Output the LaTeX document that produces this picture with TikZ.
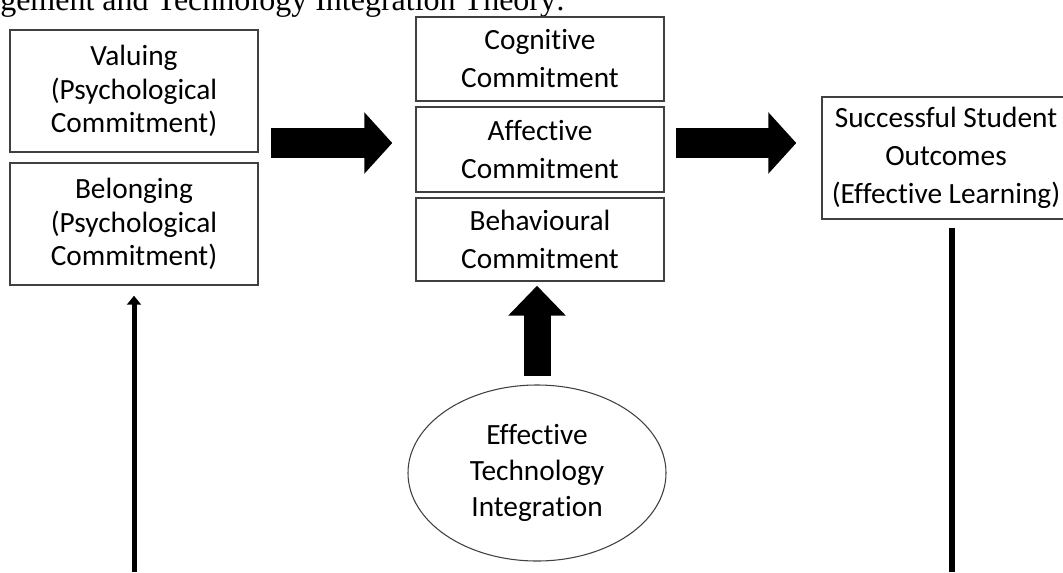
\documentclass[tikz,border=0pt]{standalone}
\usepackage{fontspec}
\setmainfont{Carlito}[Ligatures=NoCommon]
\newfontfamily\titlefont{Liberation Serif}
\usetikzlibrary{shapes.geometric,arrows.meta,calc}

\begin{document}
\begin{tikzpicture}[x=0.75pt,y=-0.75pt,
    box/.style={draw=black!75,line width=1.1pt,align=center,inner sep=0pt,
      minimum width=186pt,font=\fontsize{22}{25}\selectfont},
    loose/.style={font=\fontsize{22}{28.5}\selectfont},
    blockarrow/.style={line width=22.5pt,-{Triangle[length=21pt,width=45pt]}},
    uparrow/.style={line width=20.25pt,-{Triangle[length=22.5pt,width=42pt]}},
    thinarrow/.style={line width=3.75pt,-{Triangle[length=6.75pt,width=10.5pt]}}]
    \useasboundingbox (0,0) rectangle (1063,572);
    \clip (0,0) rectangle (1063,572);
    \node[anchor=base west,inner sep=0pt,font=\titlefont\fontsize{24}{29}\selectfont]
      (ttl) at (0,10) {gement and Technology Integration Theory:};
    \node[box,minimum height=91.5pt](val) at (134,91) {Valuing\\(Psychological\\Commitment)};
    \node[box,minimum height=91.5pt](bel) at (134,224) {Belonging\\(Psychological\\Commitment)};
    \node[box,loose,minimum height=63pt](cog) at (540,59) {Cognitive\\Commitment};
    \node[box,loose,minimum height=63.75pt](aff) at (540,149.5) {Affective\\Commitment};
    \node[box,loose,minimum height=62.25pt](beh) at (540,239.5) {Behavioural\\Commitment};
    \node[box,loose,minimum height=91.5pt](out) at (946,158) {Successful Student\\Outcomes\\(Effective Learning)};
    \node[ellipse,draw=black!75,line width=0.8pt,align=center,inner sep=0pt,
      minimum width=193.5pt,minimum height=132pt,font=\fontsize{22}{27}\selectfont]
      (eti) at (537,473) {Effective\\Technology\\Integration};
    \coordinate (lb) at (134,572);
    \coordinate (rb) at (952,572);
    \draw[blockarrow] ($(val.east |- aff.west)+(12,-6.5)$) -- ($(aff.west)+(-23,-6.5)$);
    \draw[blockarrow] ($(aff.east)+(11,-6.5)$) -- ($(out.west |- aff.east)+(-25,-6.5)$);
    \draw[uparrow] ($(eti.north)+(0,-8)$) -- ($(eti.north |- beh.south)+(0,4)$);
    \draw[thinarrow] (lb) -- ($(bel.south)+(0,10)$);
    \draw[line width=4.5pt] ($(out.south)+(6,8)$) -- (rb);
\end{tikzpicture}
\end{document}
